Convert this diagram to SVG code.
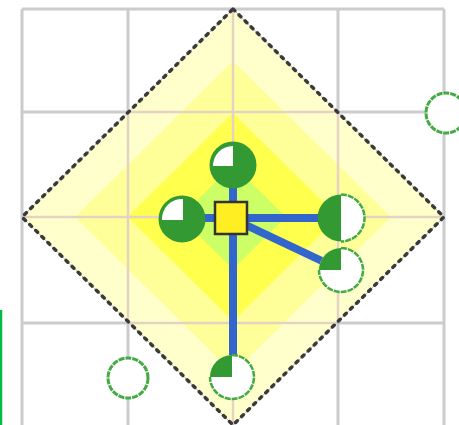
<svg xmlns="http://www.w3.org/2000/svg" width="459" height="425" viewBox="0 0 459 425">
  <style>
    .grid { stroke: #cccccc; stroke-width: 3; fill: none; }
    .grid-in { stroke: #e6d2c2; stroke-width: 2.5; fill: none; }
    .conn { stroke: #3366cc; stroke-width: 8; fill: none; }
    .green { fill: #339933; }
    .white { fill: #ffffff; }
    .ring { fill: none; stroke: #44aa44; stroke-width: 2.5; stroke-dasharray: 6 1; }
    .empty { fill: #ffffff; stroke: #44aa44; stroke-width: 3; stroke-dasharray: 6 1; }
  </style>
  <defs>
    <clipPath id="dclip">
      <polygon points="233,9 444,217 233,425 22,217"/>
    </clipPath>
  </defs>
  <rect x="0" y="0" width="459" height="425" fill="#ffffff"/>
  <!-- grid -->
  <g id="grid" class="grid">
    <line x1="22" y1="9" x2="22" y2="425"/>
    <line x1="128" y1="9" x2="128" y2="425"/>
    <line x1="233" y1="9" x2="233" y2="425"/>
    <line x1="338" y1="9" x2="338" y2="425"/>
    <line x1="444" y1="9" x2="444" y2="425"/>
    <line x1="22" y1="9" x2="444" y2="9"/>
    <line x1="22" y1="112" x2="444" y2="112"/>
    <line x1="22" y1="217" x2="444" y2="217"/>
    <line x1="22" y1="323" x2="444" y2="323"/>
  </g>
  <!-- diamond -->
  <g id="diamond">
    <polygon points="233,9 444,217 233,425 22,217" fill="#ffffcc"/>
    <polygon points="233,61 391,217 233,373 75,217" fill="#ffff99"/>
    <polygon points="233,113 338.5,217 233,321 127.5,217" fill="#ffff4d"/>
    <polygon points="233,165 286,217 233,269 180,217" fill="#ccff66"/>
    <g class="grid-in" clip-path="url(#dclip)">
      <line x1="128" y1="9" x2="128" y2="425"/>
      <line x1="233" y1="9" x2="233" y2="425"/>
      <line x1="338" y1="9" x2="338" y2="425"/>
      <line x1="22" y1="112" x2="444" y2="112"/>
      <line x1="22" y1="217" x2="444" y2="217"/>
      <line x1="22" y1="323" x2="444" y2="323"/>
    </g>
    <polygon points="233,9 444,217 233,425 22,217" fill="none" stroke="#bbbbbb" stroke-width="1"/>
    <polygon points="233,9 444,217 233,425 22,217" fill="none" stroke="#3a3a3a" stroke-width="3.5" stroke-dasharray="2.5 6" stroke-linecap="round"/>
  </g>
  <!-- green bar at left -->
  <line x1="1" y1="310" x2="1" y2="425" stroke="#00bb44" stroke-width="2.5"/>
  <!-- connectors -->
  <g id="connectors" class="conn">
    <line x1="233" y1="218" x2="233" y2="165"/>
    <line x1="231" y1="218" x2="182" y2="218"/>
    <line x1="231" y1="218" x2="341" y2="218"/>
    <line x1="231" y1="218" x2="341" y2="270"/>
    <line x1="233" y1="218" x2="233" y2="377"/>
  </g>
  <!-- nodes -->
  <g id="node-top">
    <circle cx="233" cy="165" r="23.5" class="green"/>
    <path d="M233,166 L233,146 A20,20 0 0 0 213,166 Z" class="white"/>
  </g>
  <g id="node-left">
    <circle cx="182" cy="219" r="23.5" class="green"/>
    <path d="M183,220 L183,199 A20,20 0 0 0 162,220 Z" class="white"/>
  </g>
  <g id="node-right">
    <path d="M341,194.5 A23.5,23.5 0 0 1 341,241.5 Z" class="white"/>
    <path d="M341,194.5 A23.5,23.5 0 0 0 341,241.5 Z" class="green"/>
    <path d="M341,194.5 A23.5,23.5 0 0 1 341,241.5" class="ring"/>
  </g>
  <g id="node-lower-right">
    <circle cx="341" cy="270" r="22" class="white"/>
    <path d="M341,270 L341,248 A22,22 0 0 0 319,270 Z" class="green"/>
    <path d="M341,248 A22,22 0 1 1 319,270" class="ring"/>
  </g>
  <g id="node-bottom">
    <circle cx="232" cy="377" r="22" class="white"/>
    <path d="M232,377 L232,355 A22,22 0 0 0 210,377 Z" class="green"/>
    <path d="M232,355 A22,22 0 1 1 210,377" class="ring"/>
  </g>
  <g id="node-center">
    <rect x="215" y="202" width="32" height="32" fill="#ffee22" stroke="#333333" stroke-width="2.5"/>
  </g>
  <g id="node-empty-right">
    <circle cx="446" cy="113" r="20" class="empty"/>
  </g>
  <g id="node-empty-bottom">
    <circle cx="128" cy="378" r="20" class="empty"/>
  </g>
</svg>
